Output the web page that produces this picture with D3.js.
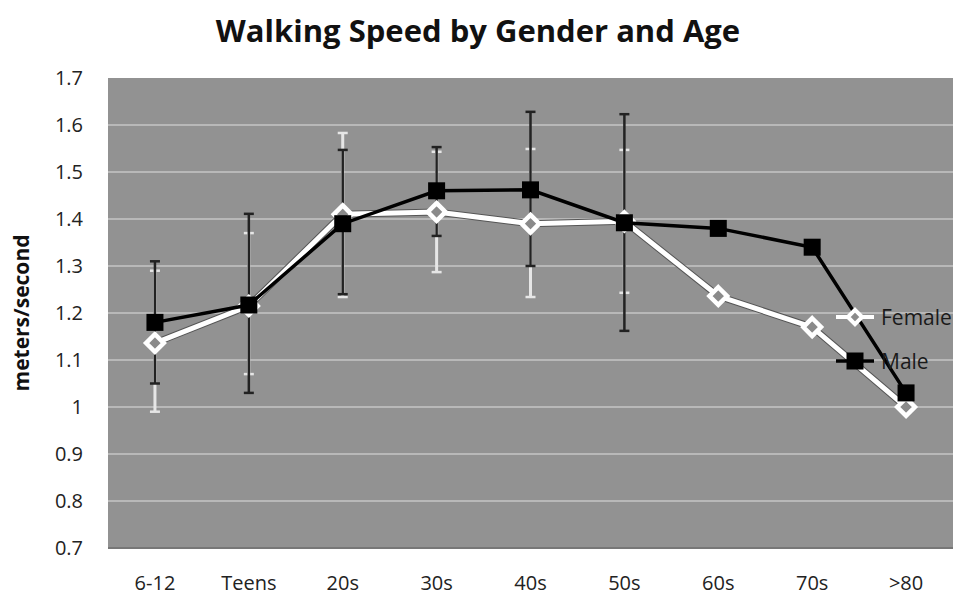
<!DOCTYPE html>
<html>
<head>
<meta charset="utf-8">
<script src="https://cdn.jsdelivr.net/npm/d3@7"></script>
<style>
  body { margin: 0; background: #fff; }
  svg text { font-family: "Open Sans", "Noto Sans", sans-serif; }
</style>
</head>
<body>
<svg id="chart" width="957" height="600"></svg>
<script>
// data
var ages = ['6-12', 'Teens', '20s', '30s', '40s', '50s', '60s', '70s', '>80'];
var femaleSpeed = [1.136, 1.215, 1.41, 1.415, 1.39, 1.395, 1.236, 1.17, 1.0];
var maleSpeed = [1.18, 1.217, 1.39, 1.46, 1.462, 1.392, 1.38, 1.34, 1.03];
// error bar ends (null where the bar is not shown)
var femaleLow = [0.99, 1.07, 1.234, 1.287, 1.234, 1.243, null, null, null];
var femaleHigh = [1.29, 1.37, 1.583, 1.543, 1.549, 1.547, null, null, null];
var maleLow = [1.05, 1.03, 1.24, 1.364, 1.30, 1.162, null, null, null];
var maleHigh = [1.31, 1.411, 1.547, 1.553, 1.628, 1.623, null, null, null];
var yTicks = [0.7, 0.8, 0.9, 1.0, 1.1, 1.2, 1.3, 1.4, 1.5, 1.6, 1.7];

var svg = d3.select('#chart');
var plot = {left: 108, right: 953, top: 78, bottom: 548};

var x = d3.scaleBand()
	.domain(ages)
	.range([plot.left, plot.right]);
var y = d3.scaleLinear()
	.domain([0.7, 1.7])
	.range([plot.bottom, plot.top]);
var cx = function(d, i) { return x(ages[i]) + x.bandwidth()/2; };

// title
svg.append('text')
	.attr('x', 478)
	.attr('y', 42)
	.attr('text-anchor', 'middle')
	.attr('font-weight', 'bold')
	.attr('font-size', 31)
	.attr('fill', '#111')
	.text('Walking Speed by Gender and Age');

// plot background
svg.append('rect')
	.attr('x', plot.left)
	.attr('y', plot.top)
	.attr('width', plot.right - plot.left)
	.attr('height', plot.bottom - plot.top)
	.attr('fill', '#929292');

// grid lines
svg.append('g')
	.selectAll('line')
	.data(yTicks.slice(1, -1))
	.enter()
	.append('line')
		.attr('x1', plot.left)
		.attr('x2', plot.right)
		.attr('y1', function(d) { return y(d); })
		.attr('y2', function(d) { return y(d); })
		.attr('stroke', '#b8b8b8')
		.attr('stroke-width', 2);

svg.append('line')
	.attr('x1', plot.left).attr('x2', plot.right)
	.attr('y1', plot.bottom).attr('y2', plot.bottom)
	.attr('stroke', '#777').attr('stroke-width', 2);

// y axis
var yAxis = svg.append('g')
	.attr('transform', 'translate(' + (plot.left - 25) + ',0)')
	.call(d3.axisLeft(y).tickValues(yTicks).tickSize(0).tickPadding(0)
		.tickFormat(function(d) { return d3.format('')(+d.toFixed(1)); }));
yAxis.select('.domain').remove();
yAxis.selectAll('text')
	.attr('font-size', 20)
	.attr('fill', '#222')
	.attr('font-family', '"Open Sans", sans-serif');

svg.append('text')
	.attr('transform', 'translate(29,' + 313 + ') rotate(-90)')
	.attr('text-anchor', 'middle')
	.attr('font-weight', 'bold')
	.attr('font-size', 21)
	.attr('fill', '#111')
	.text('meters/second');

// x axis
var xAxis = svg.append('g')
	.attr('transform', 'translate(0,' + (plot.bottom + 22) + ')')
	.call(d3.axisBottom(x).tickSize(0).tickPadding(0));
xAxis.select('.domain').remove();
xAxis.selectAll('text')
	.attr('font-size', 20)
	.attr('fill', '#222')
	.attr('dy', '1em')
	.attr('font-family', '"Open Sans", sans-serif');

// error bars
function errorBars(low, high, color, width) {
	var g = svg.append('g');
	ages.forEach(function(a, i) {
		if (low[i] == null) return;
		var px = x(a) + x.bandwidth()/2;
		g.append('line')
			.attr('x1', px).attr('x2', px)
			.attr('y1', y(low[i])).attr('y2', y(high[i]))
			.attr('stroke', color).attr('stroke-width', width);
		[low[i], high[i]].forEach(function(v) {
			g.append('line')
				.attr('x1', px - 5).attr('x2', px + 5)
				.attr('y1', y(v)).attr('y2', y(v))
				.attr('stroke', color).attr('stroke-width', 2.5);
		});
	});
}
errorBars(femaleLow, femaleHigh, '#e6e6e6', 3);
errorBars(maleLow, maleHigh, '#222', 2.5);

var line = d3.line()
	.x(cx)
	.y(function(d) { return y(d); });

// female series
svg.append('path')
	.datum(femaleSpeed)
	.attr('d', line)
	.attr('fill', 'none')
	.attr('stroke', '#555')
	.attr('stroke-width', 7);
svg.append('path')
	.datum(femaleSpeed)
	.attr('d', line)
	.attr('fill', 'none')
	.attr('stroke', '#fff')
	.attr('stroke-width', 5);

var diamond = d3.symbol().type(d3.symbolDiamond2).size(200);
svg.append('g')
	.selectAll('path')
	.data(femaleSpeed)
	.enter()
	.append('path')
		.attr('d', diamond)
		.attr('transform', function(d, i) { return 'translate(' + cx(d, i) + ',' + y(d) + ')'; })
		.attr('fill', '#8a8a8a')
		.attr('stroke', '#fff')
		.attr('stroke-width', 4.5);

// male series
svg.append('path')
	.datum(maleSpeed)
	.attr('d', line)
	.attr('fill', 'none')
	.attr('stroke', '#000')
	.attr('stroke-width', 3.5);

svg.append('g')
	.selectAll('rect')
	.data(maleSpeed)
	.enter()
	.append('rect')
		.attr('x', function(d, i) { return cx(d, i) - 8.5; })
		.attr('y', function(d) { return y(d) - 8.5; })
		.attr('width', 17)
		.attr('height', 17)
		.attr('fill', '#000');

// legend
var legend = svg.append('g').attr('transform', 'translate(836,0)');
legend.append('line')
	.attr('x1', 0).attr('x2', 38).attr('y1', 317).attr('y2', 317)
	.attr('stroke', '#fff').attr('stroke-width', 4);
legend.append('path')
	.attr('d', d3.symbol().type(d3.symbolDiamond2).size(130))
	.attr('transform', 'translate(19,317)')
	.attr('fill', '#8a8a8a').attr('stroke', '#fff').attr('stroke-width', 4);
legend.append('text')
	.attr('x', 45).attr('y', 325)
	.attr('font-size', 21).attr('fill', '#1a1a1a')
	.text('Female');
legend.append('line')
	.attr('x1', 0).attr('x2', 38).attr('y1', 361).attr('y2', 361)
	.attr('stroke', '#000').attr('stroke-width', 3.5);
legend.append('rect')
	.attr('x', 10.5).attr('y', 352.5).attr('width', 17).attr('height', 17)
	.attr('fill', '#000');
legend.append('text')
	.attr('x', 45).attr('y', 369)
	.attr('font-size', 21).attr('fill', '#1a1a1a')
	.text('Male');
</script>
</body>
</html>
